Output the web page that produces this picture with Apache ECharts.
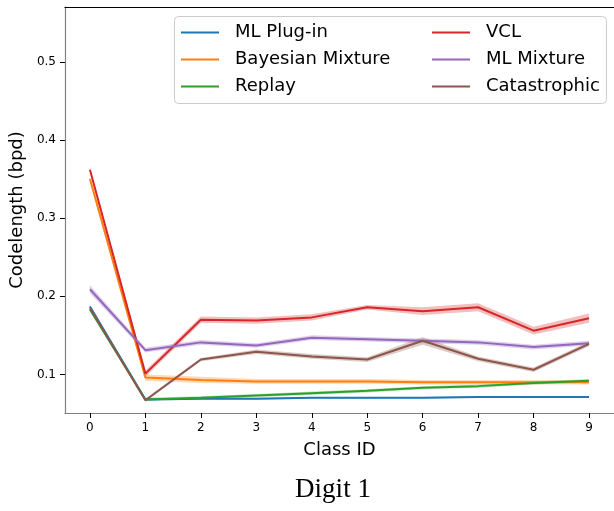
<!DOCTYPE html>
<html><head><meta charset="utf-8">
<script src="https://cdn.jsdelivr.net/npm/echarts@6/dist/echarts.min.js"></script>
<style>html,body{margin:0;padding:0;background:#fff}#c{width:614px;height:511px}</style>
</head><body><div id="c"></div>
<script>
const classIds = [0,1,2,3,4,5,6,7,8,9];
const yTicks = [0.1,0.2,0.3,0.4,0.5];
const seriesNames = ['ML Plug-in','Bayesian Mixture','Replay','VCL','ML Mixture','Catastrophic'];
const colors = ['#1f77b4','#ff7f0e','#2ca02c','#d62728','#9467bd','#8c564b'];

const mlPlugin      = [0.187,0.068,0.069,0.069,0.070,0.070,0.070,0.071,0.071,0.071];
const bayesMixture  = [0.350,0.096,0.093,0.091,0.091,0.091,0.090,0.090,0.090,0.090];
const replay        = [0.183,0.068,0.070,0.073,0.076,0.079,0.083,0.085,0.089,0.092];
const vcl           = [0.362,0.101,0.170,0.169,0.173,0.186,0.181,0.186,0.156,0.172];
const mlMixture     = [0.209,0.131,0.141,0.137,0.147,0.145,0.143,0.141,0.135,0.140];
const catastrophic  = [0.185,0.067,0.119,0.129,0.123,0.119,0.143,0.120,0.106,0.139];

// half-widths of the shaded confidence bands
const mlPluginErr     = [0.002,0.001,0.001,0.001,0.001,0.001,0.001,0.001,0.001,0.001];
const bayesMixtureErr = [0.003,0.004,0.004,0.003,0.003,0.003,0.003,0.003,0.003,0.003];
const replayErr       = [0.002,0.002,0.002,0.002,0.002,0.002,0.002,0.002,0.002,0.002];
const vclErr          = [0.003,0.004,0.004,0.004,0.004,0.003,0.005,0.005,0.005,0.006];
const mlMixtureErr    = [0.005,0.003,0.003,0.003,0.003,0.003,0.003,0.003,0.003,0.003];
const catastrophicErr = [0.003,0.002,0.002,0.003,0.003,0.003,0.005,0.003,0.003,0.003];

const allValues = [mlPlugin,bayesMixture,replay,vcl,mlMixture,catastrophic];
const allErrs = [mlPluginErr,bayesMixtureErr,replayErr,vclErr,mlMixtureErr,catastrophicErr];

const FONT = 'DejaVu Sans';
const series = [];
allValues.forEach((vals,i)=>{
  const err = allErrs[i];
  series.push({
    name:'band_'+i, type:'custom', silent:true, z:1,
    data:[[0, vals[0]]],
    encode:{x:0, y:1},
    renderItem:(params, api)=>{
      const upper = classIds.map((x,k)=>api.coord([x, vals[k]+err[k]]));
      const lower = classIds.map((x,k)=>api.coord([x, vals[k]-err[k]])).reverse();
      return {type:'polygon', shape:{points:upper.concat(lower)},
        style:{fill:colors[i], opacity:0.3}};
    }
  });
});
allValues.forEach((vals,i)=>{
  series.push({
    name:seriesNames[i], type:'line', z:3, color:colors[i],
    data: classIds.map((x,k)=>[x, vals[k]]),
    showSymbol:false, symbol:'none',
    lineStyle:{width:2, color:colors[i]}
  });
});

const legendBase = {
  orient:'vertical', padding:0, itemWidth:38, itemHeight:2, itemGap:9,
  icon:'rect', textStyle:{fontFamily:FONT, fontSize:18, color:'#000', lineHeight:18, padding:[0,0,0,11]},
  selectedMode:false
};

const chart = echarts.init(document.getElementById('c'), null, {renderer:'canvas'});
chart.setOption({
  animation:false,
  backgroundColor:'#fff',
  grid:{left:64, top:7, width:556, height:406, containLabel:false},
  legend:[
    Object.assign({}, legendBase, {left:181, top:23.5, data:seriesNames.slice(0,3)}),
    Object.assign({}, legendBase, {left:432, top:23.5, data:seriesNames.slice(3,6)})
  ],
  xAxis:[{
    type:'value', min:-0.45, max:9.45, position:'bottom',
    name:'Class ID', nameLocation:'middle', nameGap:28,
    nameTextStyle:{fontFamily:FONT, fontSize:18, color:'#000'},
    axisLine:{show:true, onZero:false, lineStyle:{color:'#808080', width:1.2}},
    axisTick:{show:true, length:5, lineStyle:{color:'#000'}, customValues:classIds},
    axisLabel:{fontFamily:FONT, fontSize:12, color:'#000', margin:9, customValues:classIds},
    splitLine:{show:false}
  },{
    type:'value', min:-0.45, max:9.45, position:'top',
    axisLine:{show:true, onZero:false, lineStyle:{color:'#000', width:1.2}},
    axisTick:{show:false}, axisLabel:{show:false}, splitLine:{show:false}
  }],
  yAxis:{
    type:'value', min:0.0506, max:0.5703,
    name:'Codelength (bpd)', nameLocation:'middle', nameGap:35,
    nameTextStyle:{fontFamily:FONT, fontSize:18, color:'#000'},
    axisLine:{show:true, onZero:false, lineStyle:{color:'#808080', width:1.2}},
    axisTick:{show:true, length:5, lineStyle:{color:'#000'}, customValues:yTicks},
    axisLabel:{fontFamily:FONT, fontSize:12, color:'#000', margin:9, customValues:yTicks,
      formatter:v=>v.toFixed(1)},
    splitLine:{show:false}
  },
  graphic:[
    {type:'rect', shape:{x:174.5, y:16.5, width:432, height:87, r:4}, z:-1,
     style:{fill:'rgba(255,255,255,0.8)', stroke:'#cccccc', lineWidth:1}},
    {type:'text', x:333, y:490, style:{text:'Digit 1', font:'27px "Liberation Serif", serif',
      fill:'#000', textAlign:'center', textVerticalAlign:'middle'}}
  ],
  series:series
});
</script></body></html>
